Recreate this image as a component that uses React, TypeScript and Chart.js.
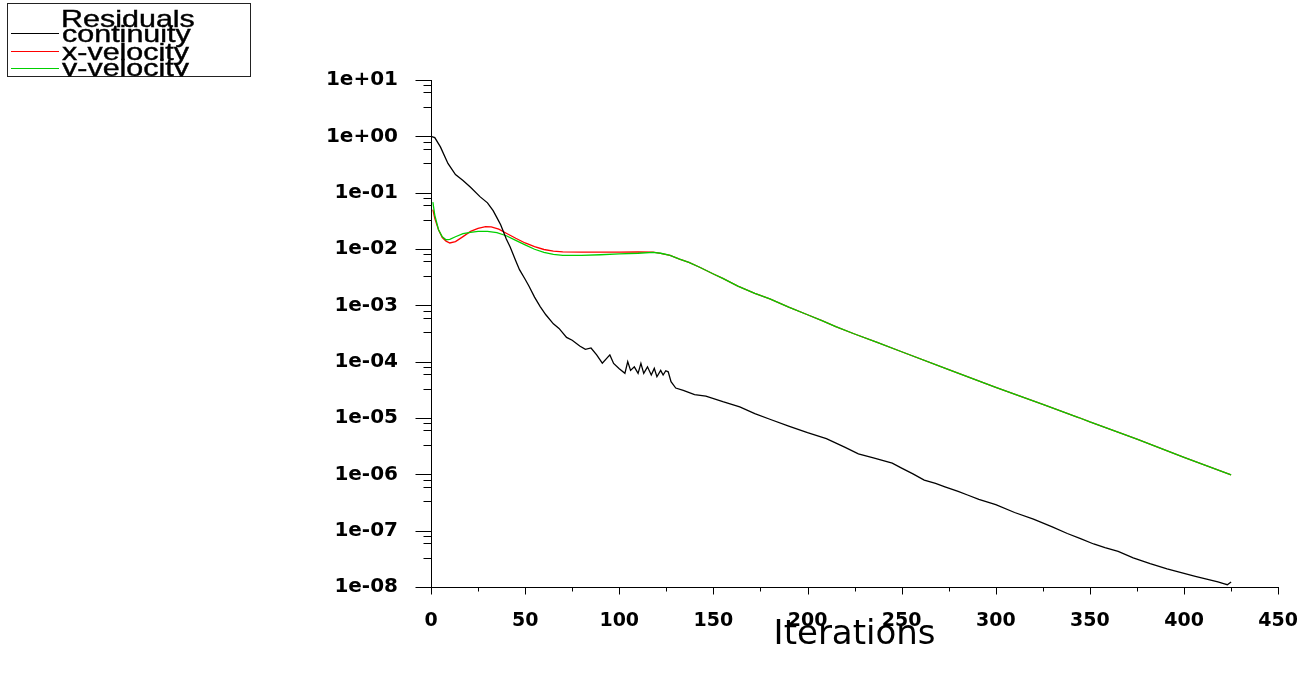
import React, { useEffect, useRef } from 'react';
import { Chart, registerables } from 'chart.js';

Chart.register(...registerables);

// ---------- data ----------
const LEGEND_TITLE = 'Residuals';
const SERIES_NAMES = ['continuity', 'x-velocity', 'y-velocity'];
const SERIES_COLORS = ['#000000', '#ff0000', '#00d000'];

const CONT_ITER = [
  0, 2, 5, 9, 13, 17, 21, 26, 30, 33, 35, 37, 40, 42, 45, 47, 50, 52, 55, 58,
  61, 65, 68, 72, 75, 79, 82, 85, 88, 91, 95, 97, 100, 103, 104.5, 106, 108, 110,
  111.5, 113, 115, 117, 118.6, 120, 122, 123.3, 124.7, 126, 127.5, 130, 134, 140,
  146, 155, 164, 172, 180, 190, 200, 210, 220, 227, 235, 245, 250, 256, 262, 268,
  273, 280, 285, 291, 300, 310, 320, 330, 338, 345, 352, 358, 365, 373, 382, 391,
  400, 406, 412, 418, 421, 423, 425,
];
const CONT_RES = [
  1.0, 0.95, 0.65, 0.33, 0.21, 0.165, 0.125, 0.085, 0.066, 0.048, 0.036, 0.027,
  0.015, 0.011, 0.0062, 0.0043, 0.0029, 0.0022, 0.0014, 0.00095,
  0.00068, 0.00047, 0.00039, 0.00027, 0.00024, 0.00019, 0.000165, 0.000175,
  0.000132, 0.000094, 0.000132, 0.000093, 0.000075, 0.000062, 0.0001, 0.00007,
  0.000081, 0.000062, 0.000093, 0.000062, 0.000081, 0.000058, 0.000076, 0.000054,
  0.00007, 0.000058, 0.000069, 0.000066, 0.000044, 0.000034, 0.000031, 0.000026,
  0.0000245, 0.0000195, 0.0000158, 0.000012, 0.0000095, 0.0000072, 0.0000055,
  0.0000043, 0.000003, 0.0000023, 0.00000195, 0.00000158, 0.00000129, 0.00000102,
  0.00000079, 0.00000069, 0.0000006, 0.0000005, 0.00000043, 0.00000036,
  0.00000029, 0.00000021, 0.00000016, 0.000000117, 0.000000089, 0.000000072,
  0.000000058, 0.00000005, 0.000000043, 0.000000033, 0.000000026, 0.000000021,
  0.0000000174, 0.0000000155, 0.0000000138, 0.0000000123, 0.0000000115,
  0.000000011, 0.0000000123,
];

const VX_ITER = [
  1, 2, 4, 6, 8, 10, 13, 17, 21, 25, 29, 32, 36, 40, 45, 50, 55, 60, 65, 70, 80,
  90, 100, 110, 118, 122, 127, 132, 137, 143, 150, 155, 163, 172, 180, 190, 200,
  208, 215, 225, 237, 250, 275, 300, 325, 344, 350, 375, 400, 425,
];
const VX_RES = [
  0.05, 0.035, 0.022, 0.016, 0.0138, 0.0128, 0.0135, 0.0166, 0.0205, 0.0232,
  0.025, 0.0248, 0.0225, 0.019, 0.0155, 0.0128, 0.011, 0.0098, 0.0092, 0.0089,
  0.0088, 0.0088, 0.0088, 0.0089, 0.0088, 0.0084, 0.0077, 0.0066, 0.0058, 0.0047,
  0.0036, 0.003, 0.0022, 0.00163, 0.0013, 0.00093, 0.00068, 0.00053, 0.00042,
  0.00031, 0.00022, 0.00015, 0.000072, 0.000035, 0.0000174, 0.0000102,
  0.0000085, 0.0000042, 0.000002, 0.00000098,
];

const VY_ITER = [
  1, 2, 4, 6, 8, 10, 13, 17, 21, 25, 30, 35, 40, 45, 50, 55, 60, 65, 70, 80, 90,
  100, 110, 118, 122, 127, 132, 137, 143, 150, 155, 163, 172, 180, 190, 200, 208,
  215, 225, 237, 250, 275, 300, 325, 344, 350, 375, 400, 425,
];
const VY_RES = [
  0.068, 0.04, 0.022, 0.0165, 0.0146, 0.0148, 0.0165, 0.0188, 0.0198, 0.0205,
  0.0205, 0.0195, 0.0172, 0.0142, 0.0118, 0.0099, 0.0087, 0.008, 0.0077, 0.0077,
  0.0079, 0.0082, 0.0084, 0.0087, 0.0084, 0.0077, 0.0066, 0.0058, 0.0047, 0.0036,
  0.003, 0.0022, 0.00163, 0.0013, 0.00093, 0.00068, 0.00053, 0.00042, 0.00031,
  0.00022, 0.00015, 0.000072, 0.000035, 0.0000174, 0.0000102, 0.0000085,
  0.0000042, 0.000002, 0.00000098,
];

const X_TICKS = [0, 50, 100, 150, 200, 250, 300, 350, 400, 450];
const X_MINOR = [25, 75, 125, 175, 225, 275, 325, 375, 425];
const Y_TICKS = [1e-8, 1e-7, 1e-6, 1e-5, 1e-4, 1e-3, 1e-2, 1e-1, 1e0, 1e1];
const Y_TICK_LABELS = ['1e-08', '1e-07', '1e-06', '1e-05', '1e-04', '1e-03', '1e-02', '1e-01', '1e+00', '1e+01'];
const Y_MINOR_MULT = [3.3, 6, 8];
const X_TITLE = 'Iterations';

const toPoints = (xs: number[], ys: number[]) => xs.map((x, i) => ({ x, y: ys[i] }));

const decorPlugin = {
  id: 'decor',
  afterDraw(chart: any) {
    const ctx = chart.ctx as CanvasRenderingContext2D;
    const xs = chart.scales.x;
    const ys = chart.scales.y;
    const area = chart.chartArea;
    const ax = Math.round(area.left) + 0.5;
    const ay = Math.round(area.bottom) + 0.5;
    ctx.save();
    ctx.strokeStyle = '#000';
    ctx.lineWidth = 1;
    ctx.beginPath();
    // y ticks (major + minor)
    for (let i = 0; i < Y_TICKS.length; i++) {
      const py = Math.round(ys.getPixelForValue(Y_TICKS[i])) + 0.5;
      ctx.moveTo(ax - 16, py);
      ctx.lineTo(ax, py);
      if (i < Y_TICKS.length - 1) {
        for (const m of Y_MINOR_MULT) {
          const my = Math.round(ys.getPixelForValue(Y_TICKS[i] * m)) + 0.5;
          ctx.moveTo(ax - 8, my);
          ctx.lineTo(ax, my);
        }
      }
    }
    // x ticks (major + minor)
    for (const v of X_TICKS) {
      const px = Math.round(xs.getPixelForValue(v)) + 0.5;
      ctx.moveTo(px, ay);
      ctx.lineTo(px, ay + 7);
    }
    for (const v of X_MINOR) {
      const px = Math.round(xs.getPixelForValue(v)) + 0.5;
      ctx.moveTo(px, ay);
      ctx.lineTo(px, ay + 4);
    }
    ctx.stroke();

    // legend box
    const bx = 7.5, by = 3.5, bw = 243, bh = 73;
    ctx.fillStyle = '#fff';
    ctx.fillRect(bx, by, bw, bh);
    ctx.strokeStyle = '#222';
    ctx.strokeRect(bx, by, bw, bh);
    ctx.save();
    ctx.beginPath();
    ctx.rect(bx, by, bw, bh);
    ctx.clip();
    ctx.fillStyle = '#000';
    ctx.font = '24px "Liberation Sans", Arial, sans-serif';
    ctx.textBaseline = 'alphabetic';
    const txt = (t: string, x: number, y: number) => {
      ctx.save();
      ctx.translate(x, y);
      ctx.scale(1.27, 1);
      ctx.fillText(t, 0, 0);
      ctx.strokeStyle = '#000';
      ctx.lineWidth = 0.4;
      ctx.strokeText(t, 0, 0);
      ctx.restore();
    };
    txt(LEGEND_TITLE, 61, 27);
    const ds = chart.data.datasets;
    const baseY = [42, 60, 76];
    const lineY = [33, 51, 68];
    ds.forEach((d: any, i: number) => {
      ctx.strokeStyle = d.borderColor;
      ctx.lineWidth = 1;
      ctx.beginPath();
      ctx.moveTo(11, lineY[i] + 0.5);
      ctx.lineTo(59, lineY[i] + 0.5);
      ctx.stroke();
      ctx.fillStyle = '#000';
      txt(d.label, 62, baseY[i]);
    });
    ctx.restore();
    ctx.restore();
  },
};

export default function App() {
  const ref = useRef<HTMLCanvasElement>(null);
  useEffect(() => {
    if (!ref.current) return;
    const tickFont = { family: '"DejaVu Sans", Verdana, sans-serif', size: 19, weight: 'bold' as const };
    const chart = new Chart(ref.current, {
      type: 'line',
      data: {
        datasets: [
          { label: SERIES_NAMES[0], data: toPoints(CONT_ITER, CONT_RES), borderColor: SERIES_COLORS[0], borderWidth: 1.3, order: 0 },
          { label: SERIES_NAMES[1], data: toPoints(VX_ITER, VX_RES), borderColor: SERIES_COLORS[1], borderWidth: 1.3, order: 2 },
          { label: SERIES_NAMES[2], data: toPoints(VY_ITER, VY_RES), borderColor: SERIES_COLORS[2], borderWidth: 1.3, order: 1 },
        ],
      },
      options: {
        animation: false,
        responsive: true,
        maintainAspectRatio: false,
        layout: { padding: { top: 80, right: 33, bottom: 0, left: 0 } },
        elements: { point: { radius: 0 }, line: { tension: 0 } },
        plugins: { legend: { display: false }, tooltip: { enabled: false } },
        scales: {
          x: {
            type: 'linear',
            min: 0,
            max: 450,
            afterBuildTicks: (s: any) => { s.ticks = X_TICKS.map((v) => ({ value: v })); },
            afterFit: (s: any) => { s.height = 90; },
            ticks: { font: tickFont, color: '#000', padding: 16, maxRotation: 0, autoSkip: false },
            grid: { display: false, drawOnChartArea: false, tickLength: 7 },
            border: { display: true, color: '#000', width: 1 },
            title: {
              display: true,
              text: X_TITLE,
              color: '#000',
              font: { family: '"DejaVu Sans", Verdana, sans-serif', size: 34, weight: 'normal' as const },
              padding: { top: 0, bottom: 21 },
            },
          },
          y: {
            type: 'logarithmic',
            min: 1e-8,
            max: 10,
            afterBuildTicks: (s: any) => { s.ticks = Y_TICKS.map((v) => ({ value: v })); },
            afterFit: (s: any) => { s.width = 431; },
            ticks: {
              font: { ...tickFont, size: 20 },
              color: '#000',
              padding: 17,
              autoSkip: false,
              callback: (v: any) => {
                const i = Y_TICKS.findIndex((t) => Math.abs(Math.log10(t) - Math.log10(Number(v))) < 1e-6);
                return i >= 0 ? Y_TICK_LABELS[i] : '';
              },
            },
            grid: { display: false, drawOnChartArea: false, tickLength: 16 },
            border: { display: true, color: '#000', width: 1 },
          },
        },
      },
      plugins: [decorPlugin],
    } as any);
    return () => chart.destroy();
  }, []);
  return (
    <div style={{ position: 'absolute', left: 0, top: 0, width: 1314, height: 677, background: '#fff' }}>
      <canvas ref={ref} />
    </div>
  );
}
